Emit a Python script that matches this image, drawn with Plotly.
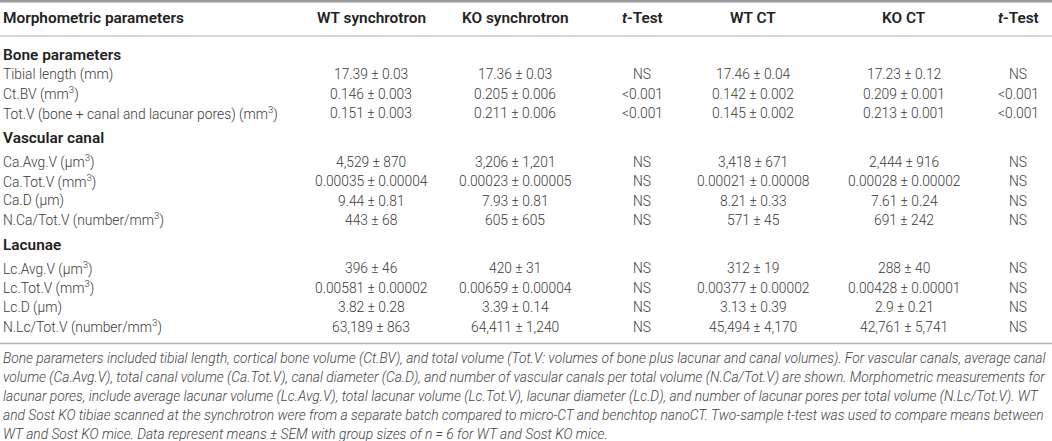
# Morphometric parameters table (synchrotron vs CT), drawn as a Plotly figure
import plotly.graph_objects as go

W, H = 1052, 441

columns = ["Morphometric parameters", "WT synchrotron", "KO synchrotron",
           "<i>t</i>-Test", "WT CT", "KO CT", "<i>t</i>-Test"]

sections = ["Bone parameters", "Vascular canal", "Lacunae"]

params = [
    ["Tibial length (mm)",
     "Ct.BV (mm<sup>3</sup>)",
     "Tot.V (bone + canal and lacunar pores) (mm<sup>3</sup>)"],
    ["Ca.Avg.V (µm<sup>3</sup>)",
     "Ca.Tot.V (mm<sup>3</sup>)",
     "Ca.D (µm)",
     "N.Ca/Tot.V (number/mm<sup>3</sup>)"],
    ["Lc.Avg.V (µm<sup>3</sup>)",
     "Lc.Tot.V (mm<sup>3</sup>)",
     "Lc.D (µm)",
     "N.Lc/Tot.V (number/mm<sup>3</sup>)"],
]

wt_sync = ["17.39 ± 0.03", "0.146 ± 0.003", "0.151 ± 0.003",
           "4,529 ± 870", "0.00035 ± 0.00004", "9.44 ± 0.81", "443 ± 68",
           "396 ± 46", "0.00581 ± 0.00002", "3.82 ± 0.28", "63,189 ± 863"]
ko_sync = ["17.36 ± 0.03", "0.205 ± 0.006", "0.211 ± 0.006",
           "3,206 ± 1,201", "0.00023 ± 0.00005", "7.93 ± 0.81", "605 ± 605",
           "420 ± 31", "0.00659 ± 0.00004", "3.39 ± 0.14", "64,411 ± 1,240"]
t_sync = ["NS", "<0.001", "<0.001",
          "NS", "NS", "NS", "NS",
          "NS", "NS", "NS", "NS"]
wt_ct = ["17.46 ± 0.04", "0.142 ± 0.002", "0.145 ± 0.002",
         "3,418 ± 671", "0.00021 ± 0.00008", "8.21 ± 0.33", "571 ± 45",
         "312 ± 19", "0.00377 ± 0.00002", "3.13 ± 0.39", "45,494 ± 4,170"]
ko_ct = ["17.23 ± 0.12", "0.209 ± 0.001", "0.213 ± 0.001",
         "2,444 ± 916", "0.00028 ± 0.00002", "7.61 ± 0.24", "691 ± 242",
         "288 ± 40", "0.00428 ± 0.00001", "2.9 ± 0.21", "42,761 ± 5,741"]
t_ct = ["NS", "<0.001", "<0.001",
        "NS", "NS", "NS", "NS",
        "NS", "NS", "NS", "NS"]

caption_lines = [
    "Bone parameters included tibial length, cortical bone volume (Ct.BV), and total volume "
    "(Tot.V: volumes of bone plus lacunar and canal volumes). For vascular canals, average canal",
    "volume (Ca.Avg.V), total canal volume (Ca.Tot.V), canal diameter (Ca.D), and number of "
    "vascular canals per total volume (N.Ca/Tot.V) are shown. Morphometric measurements for",
    "lacunar pores, include average lacunar volume (Lc.Avg.V), total lacunar volume (Lc.Tot.V), "
    "lacunar diameter (Lc.D), and number of lacunar pores per total volume (N.Lc/Tot.V). WT",
    "and Sost KO tibiae scanned at the synchrotron were from a separate batch compared to "
    "micro-CT and benchtop nanoCT. Two-sample t-test was used to compare means between",
    "WT and Sost KO mice. Data represent means ± SEM with group sizes of n = 6 for WT and "
    "Sost KO mice.",
]

# layout constants (pixels)
col_x = [1, 371, 515, 642, 753, 904, 1018]
header_y = 18
first_row_y = 55
row_step = 19.4
section_gap = 25
after_section = 23.5
caption_y0 = 358
caption_step = 19.1

body_font = dict(family="Roboto, 'Liberation Sans', sans-serif", size=13.8,
                 color="#3a3a3a", weight=300)
bold_font = dict(family="Roboto, 'Liberation Sans', sans-serif", size=15.4,
                 color="#222222", weight=600)
caption_font = dict(family="Roboto, 'Liberation Sans', sans-serif",
                    size=13.8, color="#444444", style="italic", weight=300)

fig = go.Figure()
annotations = []


def add_text(x, y, text, font, anchor="center"):
    annotations.append(dict(x=x, y=y, xref="x", yref="y", text=text, showarrow=False,
                            xanchor=anchor, yanchor="middle", font=font))


# header
for i, c in enumerate(columns):
    add_text(col_x[i], header_y, c, bold_font, "left" if i == 0 else "center")

# body
data_cols = [wt_sync, ko_sync, t_sync, wt_ct, ko_ct, t_ct]
y = first_row_y
k = 0
for s, (sec, rows) in enumerate(zip(sections, params)):
    if s > 0:
        y += section_gap - row_step
    add_text(col_x[0], y, sec, bold_font, "left")
    y += row_step if s == 0 else after_section
    for r in rows:
        add_text(col_x[0], y, r, body_font, "left")
        for j, col in enumerate(data_cols):
            add_text(col_x[j + 1], y, col[k], body_font)
        k += 1
        y += row_step
last_row_y = y - row_step

# caption
for i, line in enumerate(caption_lines):
    add_text(col_x[0], caption_y0 + i * caption_step, line, caption_font, "left")

shapes = [
    dict(type="line", xref="x", yref="y", x0=0, x1=W, y0=1.2, y1=1.2,
         line=dict(color="#9a9a9a", width=2.4)),
    dict(type="line", xref="x", yref="y", x0=0, x1=W, y0=36, y1=36,
         line=dict(color="#b0b0b0", width=1.2)),
    dict(type="line", xref="x", yref="y", x0=0, x1=W, y0=last_row_y + 17, y1=last_row_y + 17,
         line=dict(color="#b0b0b0", width=1.5)),
]

fig.update_layout(
    width=W, height=H,
    margin=dict(l=0, r=0, t=0, b=0),
    paper_bgcolor="white", plot_bgcolor="white",
    xaxis=dict(range=[0, W], visible=False, fixedrange=True),
    yaxis=dict(range=[H, 0], visible=False, fixedrange=True),
    annotations=annotations,
    shapes=shapes,
    showlegend=False,
)

# drop the browser's default page margin so the figure sits at the corner
fig.write_html("out.html", config=dict(displayModeBar=False),
               post_script="document.body.style.margin='0';"
                           "document.body.style.overflow='hidden';")
